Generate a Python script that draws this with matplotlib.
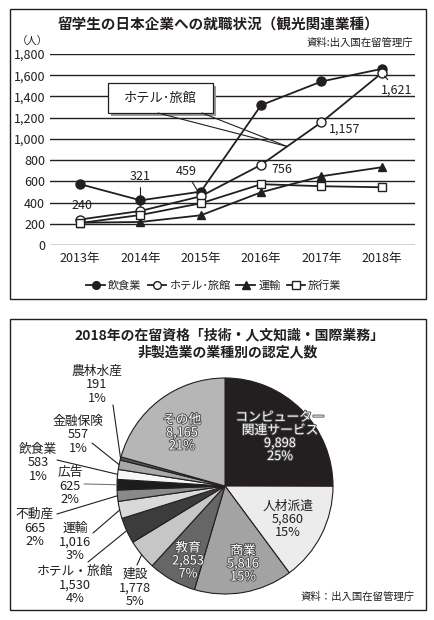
import numpy as np
import matplotlib
matplotlib.use('Agg')
import matplotlib.pyplot as plt
import matplotlib.patheffects as pe
from matplotlib.patches import Rectangle, ConnectionPatch

plt.rcParams['font.family'] = ['Noto Sans CJK JP', 'DejaVu Sans']

# DATA - line chart
years = ['2013年', '2014年', '2015年', '2016年', '2017年', '2018年']
restaurant = [573, 421, 503, 1318, 1541, 1660]
hotel = [240, 321, 459, 756, 1157, 1621]
transport = [210, 217, 280, 497, 648, 733]
travel = [207, 283, 393, 573, 554, 544]
series_names = ['飲食業', 'ホテル･旅館', '運輸', '旅行業']

# DATA - pie chart (clockwise from top)
pie_names = ['コンピューター\n関連サービス', '人材派遣', '商業', '教育', '建設', 'ホテル・旅館',
             '運輸', '不動産', '広告', '飲食業', '金融保険', '農林水産', 'その他']
pie_values = [9898, 5860, 5816, 2853, 1778, 1530, 1016, 665, 625, 583, 557, 191, 8165]
pie_pcts = ['25%', '15%', '15%', '7%', '5%', '4%', '3%', '2%', '2%', '1%', '1%', '1%', '21%']
pie_colors = ['#231f20', '#ececec', '#a3a3a3', '#666666', '#c6c6c6', '#3c3c3c', '#d9d9d9',
              '#8a8a8a', '#1c1c1c', '#f7f7f7', '#a8a8a8', '#555555', '#b6b6b6']

W, H = 435, 620
INK = '#231f20'
fig = plt.figure(figsize=(W / 100, H / 100), dpi=100)


def px_axes(x0, y0, x1, y1, z):
    a = fig.add_axes([x0 / W, 1 - y1 / H, (x1 - x0) / W, (y1 - y0) / H])
    a.set_zorder(z)
    return a


def overlay(z):
    a = px_axes(0, 0, W, H, z)
    a.set_xlim(0, W)
    a.set_ylim(H, 0)
    a.axis('off')
    a.patch.set_visible(False)
    return a


bg = overlay(0)
fg = overlay(5)

# panel frames
bg.add_patch(Rectangle((10, 9), 416, 290, fill=False, ec=INK, lw=1))
bg.add_patch(Rectangle((10, 319), 416, 291, fill=False, ec=INK, lw=1))

# ---------------- TOP: line chart ----------------
fg.text(218, 25, '留学生の日本企業への就職状況（観光関連業種）', ha='center', va='center',
        fontsize=10.5, fontweight='bold', color=INK)
fg.text(32, 42, '（人）', ha='center', va='center', fontsize=7.5, color=INK)
fg.text(413, 43, '資料:出入国在留管理庁', ha='right', va='center', fontsize=7.5, color=INK)

ax = px_axes(50, 54, 415, 245, 1)
ax.patch.set_visible(False)
x = np.arange(len(years))
l1, = ax.plot(x, restaurant, '-o', color=INK, mfc=INK, mec=INK, ms=6.5, lw=1.3, zorder=4)
l2, = ax.plot(x, hotel, '-o', color=INK, mfc='white', mec=INK, ms=6.5, mew=1, lw=1.3, zorder=4)
l3, = ax.plot(x, transport, '-^', color=INK, mfc=INK, mec=INK, ms=6, lw=1.3, zorder=4)
l4, = ax.plot(x, travel, '-s', color=INK, mfc='white', mec=INK, ms=6, mew=1, lw=1.3, zorder=4)
ax.set_xlim(-0.5, 5.55)
ax.set_ylim(0, 1800)
ticks = list(range(0, 1801, 200))
ax.set_yticks(ticks, [f'{t:,}' for t in ticks])
ax.set_xticks(x, years)
ax.yaxis.grid(True, color=INK, lw=1)
ax.set_axisbelow(True)
for s in ax.spines.values():
    s.set_visible(False)
ax.tick_params(axis='y', length=0, pad=3.5, labelsize=9, colors=INK)
ax.tick_params(axis='x', length=0, pad=5, labelsize=9, colors=INK)

# value labels on the hotel series
offsets = [(2, 14, False), (0, 34, True), (-15, 25, True), (21, -5, False), (23, -7, False), (15, -17, True)]
for i, (dx, dy, lead) in enumerate(offsets):
    props = dict(arrowstyle='-', lw=0.8, color=INK, shrinkA=1, shrinkB=3) if lead else None
    ax.annotate(f'{hotel[i]:,}', xy=(i, hotel[i]), xytext=(dx, dy), textcoords='offset pixels',
                ha='center', va='center', fontsize=9, color=INK, arrowprops=props, zorder=6)

# callout box
fg.add_patch(Rectangle((111, 86), 105, 30, fc='#9a9a9a', ec='none'))
fg.add_patch(Rectangle((108, 83), 105, 30, fc='white', ec=INK, lw=0.9))
fg.text(160.5, 98, 'ホテル･旅館', ha='center', va='center', fontsize=9.5, color=INK)
target = (3.43, hotel[3] + 0.43 * (hotel[4] - hotel[3]))
for sx in (158, 202):
    fig.add_artist(ConnectionPatch(xyA=(sx, 113), coordsA=fg.transData, xyB=target,
                                   coordsB=ax.transData, color=INK, lw=0.8, zorder=6))

fig.legend([l1, l2, l3, l4], series_names, loc='center',
           bbox_to_anchor=(214 / W, 1 - 286 / H), ncol=4, frameon=False, fontsize=8,
           handlelength=1.7, handletextpad=0.25, columnspacing=0.55, markerscale=0.85,
           labelcolor=INK)

# ---------------- BOTTOM: pie chart ----------------
fg.text(229, 335, '2018年の在留資格「技術・人文知識・国際業務」', ha='center', va='center',
        fontsize=10, fontweight='bold', color=INK)
fg.text(228, 352, '非製造業の業種別の認定人数', ha='center', va='center',
        fontsize=10, fontweight='bold', color=INK)
fg.text(415, 597, '資料：出入国在留管理庁', ha='right', va='center', fontsize=7.5, color=INK)

pax = px_axes(117, 378, 333, 594, 2)
pax.pie(pie_values, colors=pie_colors, startangle=90, counterclock=False, radius=1,
        wedgeprops=dict(edgecolor=INK, linewidth=0.8))
pax.set_xlim(-1, 1)
pax.set_ylim(-1, 1)

fr = np.array(pie_values) / sum(pie_values)
mid = 90 - 360 * (np.cumsum(fr) - fr / 2)

# outer labels: text centre and leader start, in pixels
outer = {
    '農林水産': ((97, 385), (113, 405)),
    '金融保険': ((78, 435), (92, 443)),
    '飲食業': ((38, 463), (57, 460)),
    '広告': ((70, 486), (84, 484)),
    '不動産': ((35, 528), (57, 514)),
    '運輸': ((75, 542), (93, 533)),
    'ホテル・旅館': ((75, 585), (88, 562)),
    '建設': ((135, 588), (137, 565)),
}
for i, name in enumerate(pie_names):
    if name not in outer:
        continue
    (tx, ty), (sx, sy) = outer[name]
    fg.text(tx, ty, f'{name}\n{pie_values[i]:,}\n{pie_pcts[i]}', ha='center', va='center',
            fontsize=9.2, color=INK, linespacing=1.05)
    th = np.deg2rad(mid[i])
    fig.add_artist(ConnectionPatch(xyA=(sx, sy), coordsA=fg.transData,
                                   xyB=(np.cos(th), np.sin(th)), coordsB=pax.transData,
                                   color='#777777' if name == '広告' else INK, lw=0.8, zorder=6))

# inner labels
inner = {
    'その他': ((182, 433), 'white'),
    'コンピューター\n関連サービス': ((280, 437), 'white'),
    '人材派遣': ((288, 519), 'black'),
    '商業': ((243, 564), 'white'),
    '教育': ((188, 561), 'white'),
}
for i, name in enumerate(pie_names):
    if name not in inner:
        continue
    (tx, ty), c = inner[name]
    t = fg.text(tx, ty, f'{name}\n{pie_values[i]:,}\n{pie_pcts[i]}', ha='center', va='center',
                fontsize=9.2, color=INK if c == 'black' else 'white', linespacing=1.0)
    if c == 'white':
        t.set_path_effects([pe.withStroke(linewidth=1.3, foreground='#4a4a4a')])

fig.savefig('out.png', dpi=100)
